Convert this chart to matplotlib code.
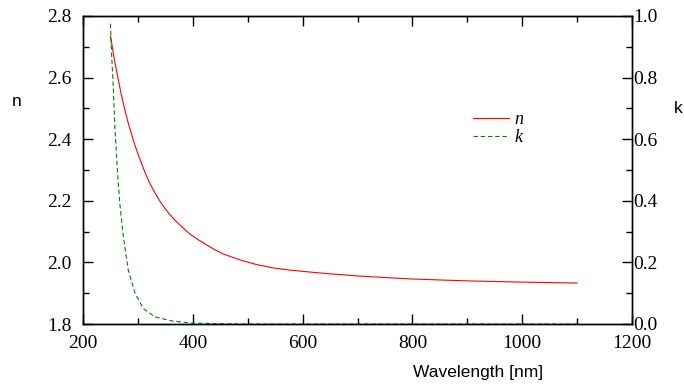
import matplotlib
matplotlib.use("Agg")
import matplotlib.pyplot as plt
from matplotlib.ticker import MultipleLocator

serif = "Liberation Serif"
sans = "Liberation Sans"
plt.rcParams["font.family"] = [serif, "DejaVu Serif"]

# refractive index n
wl_n = [250, 258, 264, 270, 276, 282, 289, 295, 303, 313, 322, 331, 340, 349,
        358, 368, 386, 395, 407, 425, 440, 456, 486, 516, 547, 577, 629, 700,
        800, 900, 1000, 1100]
n_vals = [2.735, 2.650, 2.596, 2.543, 2.497, 2.455, 2.413, 2.378, 2.338, 2.292,
          2.256, 2.226, 2.199, 2.176, 2.156, 2.136, 2.106, 2.092, 2.077, 2.057,
          2.041, 2.027, 2.008, 1.993, 1.982, 1.975, 1.966, 1.956, 1.946, 1.940,
          1.936, 1.933]

# extinction coefficient k
wl_k = [250, 252, 255, 258, 263, 267, 273.5, 282.5, 295, 310, 331, 362, 398,
        450, 500, 600, 800, 1000, 1100]
k_vals = [0.975, 0.881, 0.772, 0.642, 0.49, 0.392, 0.283, 0.175, 0.099, 0.050,
          0.023, 0.010, 0.003, 0.001, 0.0, 0.0, 0.0, 0.0, 0.0]

fig = plt.figure(figsize=(6.84, 3.89), dpi=100)
ax = fig.add_axes([83 / 684, 1 - 324 / 389, (632 - 83) / 684, (324 - 16) / 389])
ax2 = ax.twinx()

l1, = ax.plot(wl_n, n_vals, color="#ff0000", lw=0.8, label="n")
l2, = ax2.plot(wl_k, k_vals, color="#008000", lw=0.8, ls=(0, (4, 2.5)), label="k")

ax.set_xlim(200, 1200)
ax.set_ylim(1.8, 2.8)
ax2.set_ylim(0.0, 1.0)

ax.xaxis.set_major_locator(MultipleLocator(200))
ax.xaxis.set_minor_locator(MultipleLocator(100))
ax.yaxis.set_major_locator(MultipleLocator(0.2))
ax.yaxis.set_minor_locator(MultipleLocator(0.1))
ax2.yaxis.set_major_locator(MultipleLocator(0.2))
ax2.yaxis.set_minor_locator(MultipleLocator(0.1))
ax.yaxis.set_major_formatter(lambda v, p: f"{v:.1f}")
ax2.yaxis.set_major_formatter(lambda v, p: f"{v:.1f}")

ax.tick_params(which="both", direction="in", top=True, right=False, width=1.0,
               labelsize=14)
ax.tick_params(which="major", length=7.5)
ax.tick_params(which="minor", length=4.5)
ax.tick_params(axis="y", pad=8)
ax.tick_params(axis="x", pad=8)
ax2.tick_params(which="both", direction="in", width=1.0, labelsize=14, pad=1)
ax2.tick_params(which="major", length=7.5)
ax2.tick_params(which="minor", length=4.5)

for a in (ax, ax2):
    for s in a.spines.values():
        s.set_linewidth(1.0)

fig.text(17 / 684, 1 - 102 / 389, "n", family=sans, fontsize=12.5,
         ha="center", va="center")
fig.text(678 / 684, 1 - 108 / 389, "k", family=sans, fontsize=12.5,
         ha="center", va="center")
fig.text(478 / 684, 1 - 372 / 389, "Wavelength [nm]", family=sans,
         fontsize=12.5, ha="center", va="center")

fig.legend([l1, l2], ["n", "k"], loc="upper left",
           bbox_to_anchor=(473 / 684, 1 - 111 / 389), frameon=False,
           prop={"family": serif, "style": "italic", "size": 13},
           handlelength=2.0, handletextpad=0.3, labelspacing=0.05,
           borderpad=0, borderaxespad=0)

fig.savefig("out.png", dpi=100)
